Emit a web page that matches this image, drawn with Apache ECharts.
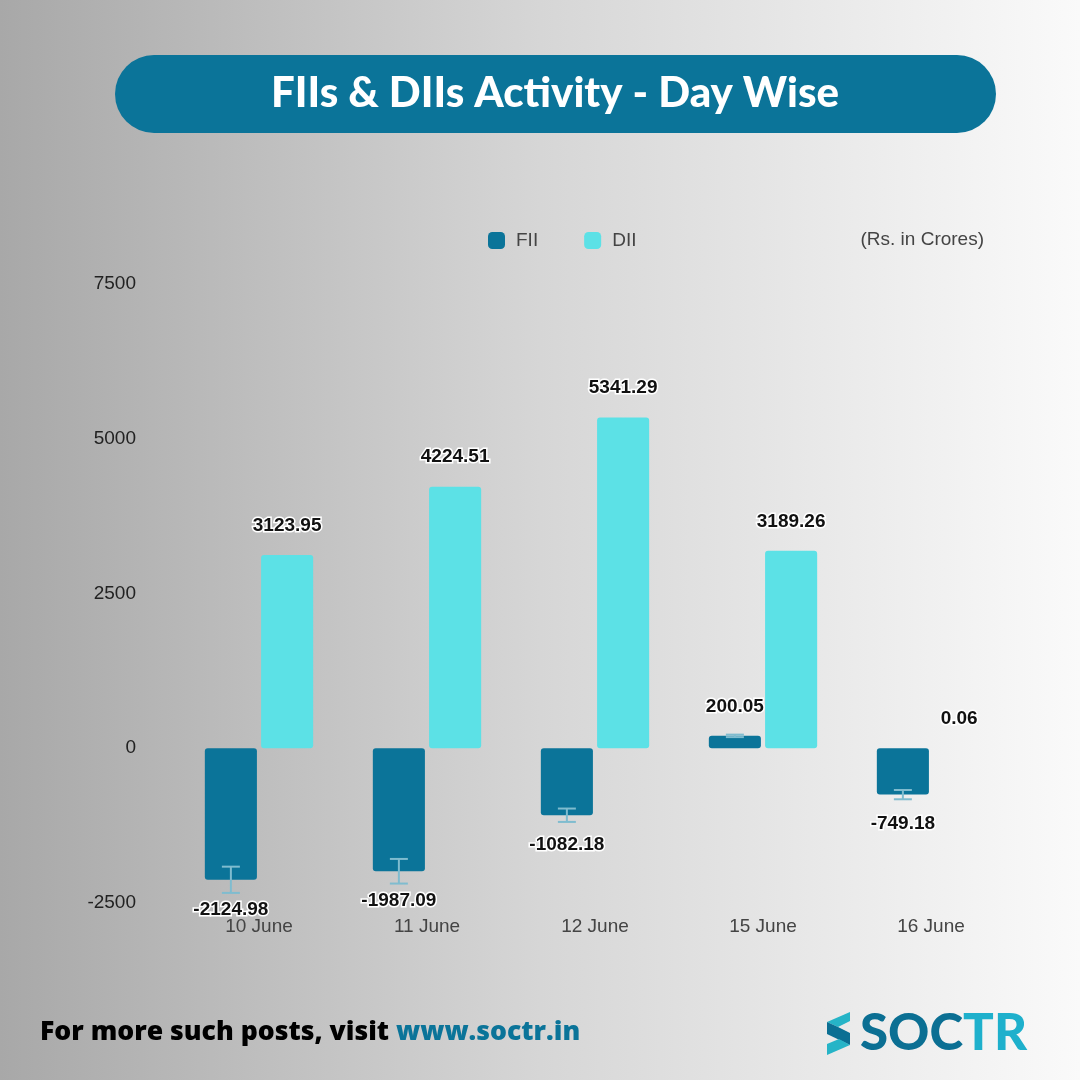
<!DOCTYPE html>
<html>
<head>
<meta charset="utf-8">
<script src="https://cdn.jsdelivr.net/npm/echarts@6/dist/echarts.min.js"></script>
<style>
html,body{margin:0;padding:0;}
#chart{width:1080px;height:1080px;}
</style>
</head>
<body>
<div id="chart"></div>
<script>
// ---- data ----
const categories = ['10 June', '11 June', '12 June', '15 June', '16 June'];
const fiiValues = [-2124.98, -1987.09, -1082.18, 200.05, -749.18];
const diiValues = [3123.95, 4224.51, 5341.29, 3189.26, 0.06];
const fiiErrors = [212, 199, 108, 20, 75];
const yTicks = [-2500, 0, 2500, 5000, 7500];
const seriesNames = ['FII', 'DII'];

const FII_COLOR = '#0b7499';
const DII_COLOR = '#5ce1e6';
const BAR_W = 0.31;
const BAR_GAP = 0.08;

const chart = echarts.init(document.getElementById('chart'), null, {renderer: 'canvas'});

const labelStyle = {
  show: true,
  fontFamily: 'Liberation Sans, Arial, sans-serif',
  fontWeight: 'bold',
  fontSize: 19,
  color: '#111',
  textBorderColor: '#fff',
  textBorderWidth: 3,
  distance: 20,
  formatter: p => String(p.value)
};

const option = {
  backgroundColor: new echarts.graphic.LinearGradient(0, 0, 1, 0, [
    {offset: 0, color: '#a8a8a8'},
    {offset: 0.5, color: '#d6d6d6'},
    {offset: 1, color: '#fafafa'}
  ]),
  animation: false,
  textStyle: {fontFamily: 'Liberation Sans, Arial, sans-serif'},
  legend: {
    data: seriesNames,
    left: 483,
    top: 226,
    itemWidth: 17,
    itemHeight: 17,
    itemGap: 46,
    icon: 'roundRect',
    textStyle: {fontSize: 19, color: '#444', padding: [0, 0, 0, 6]}
  },
  grid: {left: 175, right: 65, top: 284, bottom: 177},
  xAxis: {
    type: 'category',
    data: categories,
    axisLine: {show: false},
    axisTick: {show: false},
    axisLabel: {fontSize: 19, color: '#444', margin: 14}
  },
  yAxis: {
    type: 'value',
    min: yTicks[0],
    max: yTicks[yTicks.length - 1],
    interval: 2500,
    splitLine: {show: false},
    axisLine: {show: false},
    axisTick: {show: false},
    axisLabel: {fontSize: 19, color: '#222', margin: 39, formatter: v => String(v)}
  },
  series: [
    {
      name: seriesNames[0],
      type: 'bar',
      data: fiiValues.map(v => ({
        value: v,
        label: {position: v < 0 ? 'bottom' : 'top'}
      })),
      barWidth: (BAR_W * 100) + '%',
      barGap: (BAR_GAP * 100) + '%',
      itemStyle: {color: FII_COLOR, borderRadius: 3},
      label: labelStyle,
      z: 2
    },
    {
      name: seriesNames[1],
      type: 'bar',
      data: diiValues,
      barWidth: (BAR_W * 100) + '%',
      itemStyle: {color: DII_COLOR, borderRadius: 3},
      label: Object.assign({}, labelStyle, {position: 'top'}),
      z: 2
    },
    {
      name: 'FII error',
      type: 'custom',
      data: fiiValues.map((v, i) => [i, v, fiiErrors[i]]),
      z: 5,
      silent: true,
      renderItem: function (params, api) {
        const idx = api.value(0);
        const v = api.value(1);
        const e = api.value(2);
        const band = api.size([1, 0])[0];
        const bw = band * BAR_W;
        const off = -(bw + bw * BAR_GAP) / 2;
        const p1 = api.coord([idx, v + e]);
        const p2 = api.coord([idx, v - e]);
        const x = p1[0] + off;
        const hw = 9;
        const style = {stroke: '#7fbccf', lineWidth: 2, fill: null};
        return {
          type: 'group',
          children: [
            {type: 'line', shape: {x1: x, y1: p1[1], x2: x, y2: p2[1]}, style: style},
            {type: 'line', shape: {x1: x - hw, y1: p1[1], x2: x + hw, y2: p1[1]}, style: style},
            {type: 'line', shape: {x1: x - hw, y1: p2[1], x2: x + hw, y2: p2[1]}, style: style}
          ]
        };
      }
    }
  ],
  graphic: [
    {
      type: 'rect',
      shape: {x: 115, y: 55, width: 881, height: 78, r: 39},
      style: {fill: '#0b7499'}
    },
    {
      type: 'text',
      x: 555, y: 93,
      style: {
        text: 'FIIs & DIIs Activity - Day Wise',
        fill: '#fff',
        font: '900 42px Lato, "Open Sans", sans-serif',
        align: 'center',
        verticalAlign: 'middle'
      }
    },
    {
      type: 'text',
      x: 984, y: 240,
      style: {
        text: '(Rs. in Crores)',
        fill: '#444',
        font: '19px "Liberation Sans", Arial, sans-serif',
        align: 'right',
        verticalAlign: 'middle'
      }
    },
    {
      type: 'text',
      x: 40, y: 1032,
      style: {
        text: '{a|For more such posts, visit }{b|www.soctr.in}',
        verticalAlign: 'middle',
        rich: {
          a: {fontFamily: '"Open Sans", sans-serif', fontWeight: 800, fontSize: 26.6, fill: '#000'},
          b: {fontFamily: '"Open Sans", sans-serif', fontWeight: 800, fontSize: 26.6, fill: '#0b7499'}
        }
      }
    },
    // logo icon
    {
      type: 'polygon',
      shape: {points: [[850, 1012], [850, 1021], [838, 1027], [827, 1022]]},
      style: {fill: '#26b4c7'}
    },
    {
      type: 'polygon',
      shape: {points: [[827, 1022], [838, 1027], [850, 1033], [850, 1045], [827, 1034]]},
      style: {fill: '#0b6f93'}
    },
    {
      type: 'polygon',
      shape: {points: [[827, 1044], [839, 1039], [850, 1045], [827, 1055]]},
      style: {fill: '#26b4c7'}
    },
    {
      type: 'text',
      x: 860, y: 1034,
      style: {
        text: '{a|SOC}{b|TR}',
        verticalAlign: 'middle',
        rich: {
          a: {fontFamily: 'Lato, sans-serif', fontWeight: 900, fontSize: 51, fill: '#0b6f93'},
          b: {fontFamily: 'Lato, sans-serif', fontWeight: 900, fontSize: 51, fill: '#1eb0cc'}
        }
      }
    }
  ]
};

chart.setOption(option);
</script>
</body>
</html>
